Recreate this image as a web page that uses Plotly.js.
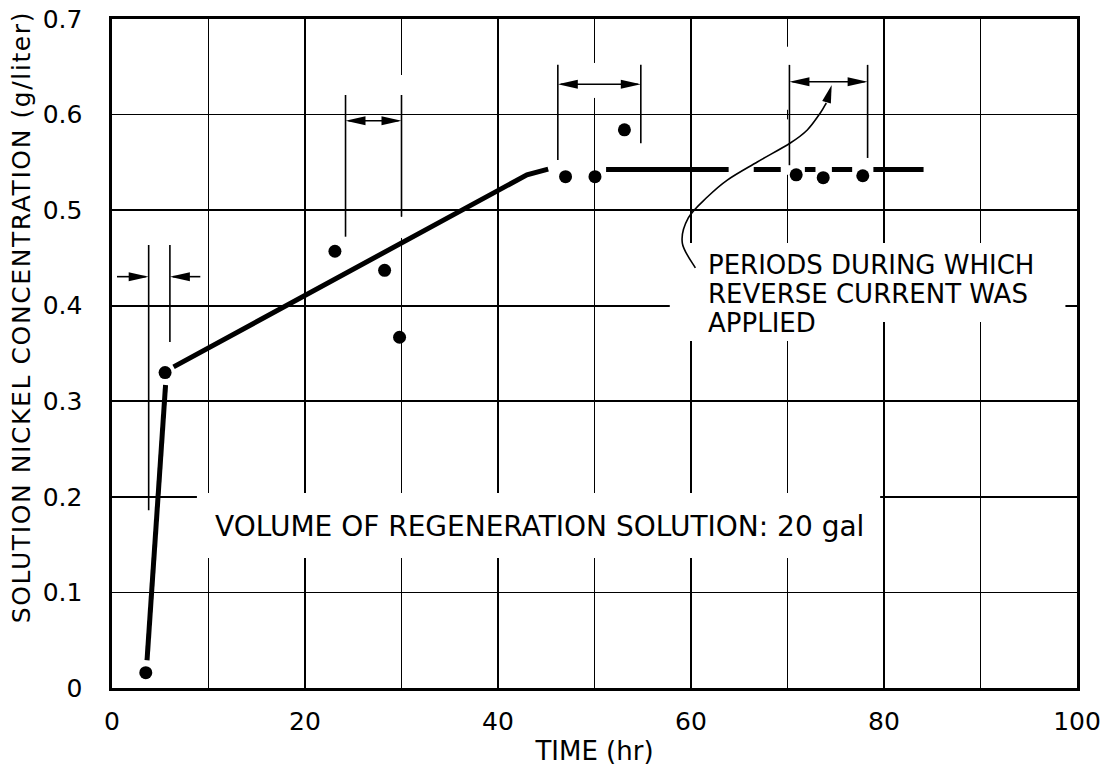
<!DOCTYPE html>
<html>
<head>
<meta charset="utf-8">
<script src="https://cdn.plot.ly/plotly-3.0.1.min.js"></script>
<style>
  html, body { margin: 0; padding: 0; background: #fff; }
  #chart { width: 1119px; height: 772px; }
  /* open lettering on the vertical axis title */
  #chart .annotation[data-index="4"] text { letter-spacing: 1.6px; }
</style>
</head>
<body>
<div id="chart"></div>
<script>
// Measured solution nickel concentration (g/liter) against time (hr)
const timeHr     = [3.5, 5.5, 23.1, 28.25, 29.8, 47.0, 50.05, 53.1, 70.9, 73.7, 77.8];
const nickelConc = [0.016, 0.330, 0.457, 0.437, 0.367, 0.535, 0.535, 0.584, 0.537, 0.534, 0.536];

// Faired trend line, broken where it runs into the data points
const trendTime = [3.63, 5.55, null, 6.38, 43.0, 45.2, null, 51.2, 63.9, null, 66.5, 69.3, null, 71.8, 72.9, null, 74.6, 76.7, null, 78.9, 84.1];
const trendConc = [0.029, 0.317, null, 0.336, 0.537, 0.543, null, 0.5425, 0.5425, null, 0.5425, 0.5425, null, 0.5425, 0.5425, null, 0.5425, 0.5425, null, 0.5425, 0.5425];

// Periods during which reverse current was applied (hr)
const periodStart = [3.8, 24.2, 46.2, 70.2];
const periodEnd   = [6.0, 30.0, 54.8, 78.3];

// Axis ticks
const xTickVals = [0, 10, 20, 30, 40, 50, 60, 70, 80, 90, 100];
const xTickText = ['0', '', '20', '', '40', '', '60', '', '80', '', '100'];
const yTickVals = [0, 0.1, 0.2, 0.3, 0.4, 0.5, 0.6, 0.7];
const yTickText = ['0', '0.1', '0.2', '0.3', '0.4', '0.5', '0.6', '0.7'];

// Leader from the note to the last period bracket
const leaderX = [60.45, 59.10, 59.72, 61.69, 63.76, 66.87, 70.29, 72.05, 73.40, 74.02];
const leaderY = [0.4395, 0.4656, 0.4918, 0.5137, 0.5315, 0.5504, 0.5703, 0.5839, 0.6017, 0.6121];
const leaderTip = [74.58, 0.6310];

// Plot-area geometry, used to size arrowheads in screen pixels
const M = {l: 112, r: 42, t: 19, b: 84};
const FIG_W = 1119, FIG_H = 772;
const X_RANGE = [0, 100], Y_RANGE = [0, 0.7];
const pxPerX = (FIG_W - M.l - M.r) / (X_RANGE[1] - X_RANGE[0]);
const pxPerY = (FIG_H - M.t - M.b) / (Y_RANGE[1] - Y_RANGE[0]);

const INK = '#000';
const FONT = '"DejaVu Sans", "Liberation Sans", sans-serif';

function seg(x0, y0, x1, y1, w) {
  return {type: 'line', xref: 'x', yref: 'y', x0, y0, x1, y1,
          line: {color: INK, width: w}, layer: 'above'};
}
function blank(x0, y0, x1, y1) {
  return {type: 'rect', xref: 'x', yref: 'y', x0, y0, x1, y1,
          fillcolor: '#fff', line: {width: 0}, layer: 'above'};
}
// Filled arrowhead with its tip at (tx, ty), pointing along (dx, dy) in screen pixels
function head(tx, ty, dx, dy, len, hw) {
  const m = Math.hypot(dx, dy), ux = dx / m, uy = dy / m;
  const bx = -ux * len, by = -uy * len, qx = -uy * hw, qy = ux * hw;
  const d = (ox, oy) => (tx + ox / pxPerX).toFixed(4) + ',' + (ty - oy / pxPerY).toFixed(5);
  return {type: 'path', xref: 'x', yref: 'y', layer: 'above',
          path: 'M' + d(0, 0) + ' L' + d(bx + qx, by + qy) + ' L' + d(bx - qx, by - qy) + ' Z',
          fillcolor: INK, line: {width: 0}};
}
// Smooth curve through points (Catmull-Rom written as cubic Beziers)
function smoothPath(xs, ys) {
  const n = xs.length, P = i => [xs[Math.max(0, Math.min(n - 1, i))], ys[Math.max(0, Math.min(n - 1, i))]];
  const f = p => p[0].toFixed(4) + ',' + p[1].toFixed(5);
  let s = 'M' + f(P(0));
  for (let i = 0; i < n - 1; i++) {
    const p0 = P(i - 1), p1 = P(i), p2 = P(i + 1), p3 = P(i + 2);
    const c1 = [p1[0] + (p2[0] - p0[0]) / 6, p1[1] + (p2[1] - p0[1]) / 6];
    const c2 = [p2[0] - (p3[0] - p1[0]) / 6, p2[1] - (p3[1] - p1[1]) / 6];
    s += ' C' + f(c1) + ' ' + f(c2) + ' ' + f(p2);
  }
  return s;
}

// Bracket drawing details per period
const bracketStyle = [
  {top: 0.4635, leftBottom: 0.186, rightBottom: 0.362, arrowY: 0.4304, inward: true, tailL: 0.52, tailR: 9.15},
  {top: 0.6205, leftBottom: 0.4722, rightBottom: 0.4932, arrowY: 0.5936},
  {top: 0.652,  leftBottom: 0.5525, rightBottom: 0.570, arrowY: 0.6317},
  {top: 0.652,  leftBottom: 0.547,  rightBottom: 0.5546, arrowY: 0.6344}
];

const shapes = [];
// breaks in the grid around lettering and brackets
shapes.push(blank(8.8, 0.136, 79.6, 0.204));
shapes.push(blank(57.8, 0.383, 98.8, 0.4656));
shapes.push(blank(57.8, 0.363, 75.0, 0.383));
shapes.push(blank(29.7, 0.6205, 30.3, 0.6414));
shapes.push(blank(29.7, 0.4709, 30.3, 0.4932));
shapes.push(blank(49.7, 0.6174, 50.3, 0.654));
shapes.push(blank(69.8, 0.537, 70.15, 0.595));
shapes.push(blank(69.8, 0.605, 70.15, 0.671));

const AH_LEN = 20, AH_HW = 4.5, THIN = 1.6;
periodStart.forEach((xs, i) => {
  const xe = periodEnd[i], s = bracketStyle[i];
  shapes.push(seg(xs, s.top, xs, s.leftBottom, THIN));
  shapes.push(seg(xe, s.top, xe, s.rightBottom, THIN));
  if (s.inward) {
    shapes.push(seg(s.tailL, s.arrowY, xs - 3 / pxPerX, s.arrowY, THIN));
    shapes.push(head(xs, s.arrowY, 1, 0, AH_LEN, AH_HW));
    shapes.push(seg(s.tailR, s.arrowY, xe + 3 / pxPerX, s.arrowY, THIN));
    shapes.push(head(xe, s.arrowY, -1, 0, AH_LEN, AH_HW));
  } else {
    shapes.push(seg(xs + 3 / pxPerX, s.arrowY, xe - 3 / pxPerX, s.arrowY, THIN));
    shapes.push(head(xs, s.arrowY, -1, 0, AH_LEN, AH_HW));
    shapes.push(head(xe, s.arrowY, 1, 0, AH_LEN, AH_HW));
  }
});
// leader curve and its arrowhead
shapes.push({type: 'path', xref: 'x', yref: 'y', layer: 'above',
             path: smoothPath(leaderX, leaderY), line: {color: INK, width: 1.6}});
const lastX = leaderX[leaderX.length - 1], lastY = leaderY[leaderY.length - 1];
shapes.push(head(leaderTip[0], leaderTip[1],
                 (leaderTip[0] - lastX) * pxPerX, -(leaderTip[1] - lastY) * pxPerY, 18, 4.5));

const noteFont = {family: FONT, size: 26, color: INK};
const annotations = [
  {text: 'VOLUME OF REGENERATION SOLUTION: 20 gal', x: 44.3, y: 0.1695, font: {family: FONT, size: 28, color: INK}},
  {text: 'PERIODS DURING WHICH', x: 61.6, y: 0.4426, xanchor: 'left'},
  {text: 'REVERSE CURRENT WAS', x: 61.6, y: 0.4123, xanchor: 'left'},
  {text: 'APPLIED', x: 61.6, y: 0.3820, xanchor: 'left'}
].map(a => Object.assign({xref: 'x', yref: 'y', showarrow: false, font: noteFont,
                          xanchor: 'center', yanchor: 'middle'}, a));
// vertical axis title, set along the left edge
annotations.push({text: 'SOLUTION NICKEL CONCENTRATION (g/liter)', xref: 'paper', yref: 'paper',
                  x: -0.0933, y: 0.5546, xanchor: 'center', yanchor: 'middle', textangle: -90,
                  showarrow: false, font: {family: FONT, size: 25, color: INK}});

const traces = [
  {x: trendTime, y: trendConc, mode: 'lines', connectgaps: false,
   line: {color: INK, width: 5}, hoverinfo: 'skip', showlegend: false},
  {x: timeHr, y: nickelConc, mode: 'markers', marker: {color: INK, size: 13},
   showlegend: false}
];

const axisCommon = {
  showgrid: true, gridcolor: INK, gridwidth: 1.6,
  showline: true, linecolor: INK, linewidth: 2.6, mirror: true,
  zeroline: false, ticks: '', tickfont: {family: FONT, size: 25, color: INK},
  automargin: false, fixedrange: true
};

const layout = {
  width: FIG_W, height: FIG_H,
  margin: M,
  paper_bgcolor: '#fff', plot_bgcolor: '#fff',
  font: {family: FONT, color: INK},
  xaxis: Object.assign({}, axisCommon, {
    range: X_RANGE, tickmode: 'array', tickvals: xTickVals, ticktext: xTickText,
    ticklabelstandoff: 9,
    title: {text: 'TIME (hr)', font: {family: FONT, size: 26, color: INK}, standoff: 8}
  }),
  yaxis: Object.assign({}, axisCommon, {
    range: Y_RANGE, tickmode: 'array', tickvals: yTickVals, ticktext: yTickText,
    ticklabelstandoff: 22
  }),
  shapes, annotations
};

Plotly.newPlot('chart', traces, layout, {staticPlot: true, displayModeBar: false});
</script>
</body>
</html>
